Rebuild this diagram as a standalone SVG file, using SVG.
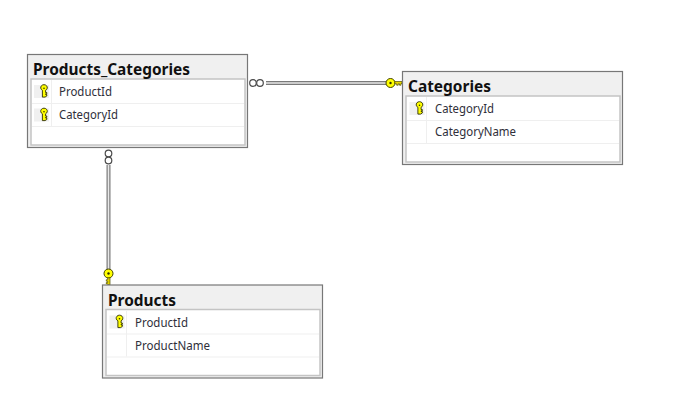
<svg xmlns="http://www.w3.org/2000/svg" width="692" height="409" viewBox="0 0 692 409">
<style>
.outer{fill:#f0f0f0;stroke:#777;stroke-width:1.2}
.inner{fill:#fff;stroke:#c4c4c4;stroke-width:1.5}
.sep{stroke:#efefef;stroke-width:1;fill:none}
.cell{fill:#f0f0f0}
.title{font:bold 16px "Noto Sans","Open Sans",sans-serif;fill:#111}
.row{font:12px "Noto Sans","Open Sans",sans-serif;fill:#2f2f3a}
.wire{fill:none;stroke:#7a7a7a;stroke-width:4}
.wire2{fill:none;stroke:#e8e8e8;stroke-width:1.6}
.ring{fill:#fff;stroke:#4a4a4a;stroke-width:1.2}
.kf{fill:#ffff00;stroke:#2e2e00;stroke-width:.9}
</style>
<defs>
<g id="rowkey">
<rect class="cell" x="-10" y="-6.500" width="15" height="13"/>
<path class="kf" d="M-1.600 -1.200A3.300 3 0 1 1 1.600 -1.200V1H2.800V2.300H1.600V3H2.800V4.500L1 5.600H-1.600Z"/>
<circle cx="0" cy="-3.300" r=".8" fill="#2e2e00"/>
</g>
<g id="fkkey">
<circle cx="0" cy="0" r="4.500" fill="#ffff00" stroke="#3f3f00" stroke-width="1"/>
<circle cx="0" cy="0" r="1.200" fill="#2e2e00"/>
<path d="M4.300 -1.500H11.500V.5H10.500V2.200H9V.8H7.700V2.200H6.200V.8H4.300Z" fill="#e8d800" stroke="#4d4d00" stroke-width=".7"/>
</g>
</defs>
<rect width="692" height="409" fill="#fff"/>
<g id="connectors">
<path class="wire" d="M266 83H387"/>
<path class="wire2" d="M266 83H387"/>
<circle class="ring" cx="253" cy="83" r="3.300"/>
<circle class="ring" cx="260" cy="83" r="3.300"/>
<use href="#fkkey" x="390.500" y="83"/>
<path class="wire" d="M108.500 165V270"/>
<path class="wire2" d="M108.500 165V270"/>
<circle class="ring" cx="108.500" cy="153.500" r="3.300"/>
<circle class="ring" cx="108.500" cy="160.500" r="3.300"/>
<use href="#fkkey" transform="translate(108.500 273.500) rotate(90)"/>
</g>
<g id="products-categories">
<rect class="outer" x="27.500" y="54.500" width="220" height="93"/>
<rect class="inner" x="31" y="79" width="214" height="66"/>
<path class="sep" d="M32 103.500H244M32 126.500H244M51.500 80V126"/>
<text class="title" x="33" y="75" textLength="157" lengthAdjust="spacingAndGlyphs">Products_Categories</text>
<use href="#rowkey" x="44" y="91.500"/>
<text class="row" x="59" y="95.500" textLength="53" lengthAdjust="spacingAndGlyphs">ProductId</text>
<use href="#rowkey" x="44" y="115"/>
<text class="row" x="59" y="119" textLength="59" lengthAdjust="spacingAndGlyphs">CategoryId</text>
</g>
<g id="categories">
<rect class="outer" x="402.500" y="71.500" width="220" height="93"/>
<rect class="inner" x="406" y="96" width="214" height="66"/>
<path class="sep" d="M407 120.500H619M407 143.500H619M426.500 97V143"/>
<text class="title" x="408" y="92" textLength="83" lengthAdjust="spacingAndGlyphs">Categories</text>
<use href="#rowkey" x="419.500" y="108.500"/>
<text class="row" x="435" y="113" textLength="59" lengthAdjust="spacingAndGlyphs">CategoryId</text>
<text class="row" x="435" y="136" textLength="81" lengthAdjust="spacingAndGlyphs">CategoryName</text>
</g>
<g id="products">
<rect class="outer" x="102.500" y="285" width="220" height="93"/>
<rect class="inner" x="106" y="309.500" width="214" height="66"/>
<path class="sep" d="M107 334H319M107 357H319M126.500 310.500V356.500"/>
<text class="title" x="108" y="305.500" textLength="68" lengthAdjust="spacingAndGlyphs">Products</text>
<use href="#rowkey" x="119.500" y="322"/>
<text class="row" x="135" y="326.500" textLength="53" lengthAdjust="spacingAndGlyphs">ProductId</text>
<text class="row" x="135" y="349.500" textLength="75" lengthAdjust="spacingAndGlyphs">ProductName</text>
</g>
</svg>
